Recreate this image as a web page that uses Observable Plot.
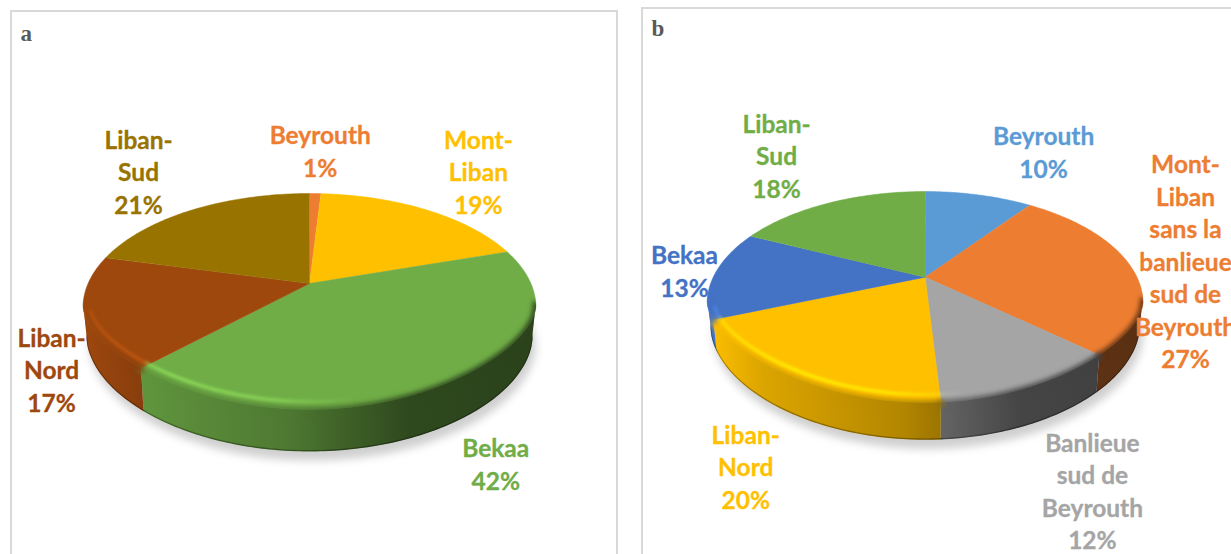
<!DOCTYPE html>
<html><head><meta charset="utf-8">
<script src="https://cdn.jsdelivr.net/npm/d3@7"></script>
<script src="https://cdn.jsdelivr.net/npm/@observablehq/plot@0.6"></script>
<style>html,body{margin:0;padding:0;background:#fff;overflow:hidden}svg{display:block}</style>
</head><body><div id="chart"></div>
<script>
// ---- data ----
const regionsA = ["Beyrouth", "Mont-\nLiban", "Bekaa", "Liban-\nNord", "Liban-\nSud"];
const sharesA = [1, 19, 42, 17, 21];
const colorsA = ["#ED7D31", "#FFC000", "#70AD47", "#9E480E", "#997300"];

const regionsB = ["Beyrouth", "Mont-\nLiban\nsans la\nbanlieue\nsud de\nBeyrouth", "Banlieue\nsud de\nBeyrouth", "Liban-\nNord", "Bekaa", "Liban-\nSud"];
const sharesB = [10, 27, 12, 20, 13, 18];
const colorsB = ["#5B9BD5", "#ED7D31", "#A5A5A5", "#FFC000", "#4472C4", "#70AD47"];

// ---- layout (not data) ----
const W = 1231, H = 554;
const geomA = {id:"a", cx:309, cy:307, rx:226.5, ryUp:114, ryLow:102, bow:20, tiltUp:-0.21, tiltLow:-0.167, cyb:339, ryb:112};
const geomB = {id:"b", cx:924.6, cy:303, rx:218, ryUp:112, ryLow:99, bow:20, tiltUp:-0.235, tiltLow:-0.188, cyb:329, ryb:110.3};
const labelNudgeA = [[5,-43.5],[52.5,-39],[52.4,78.5],[-34.3,51.5],[-54.5,-38.7]];
const labelNudgeB = [[65,-44],[54,-7],[62.2,103.5],[-48.3,88.7],[-30.4,-4],[-53.8,-48]];
const wallShade = [[0,1],[.13,.86],[.45,.7],[.6,.54],[.72,.42],[1,.38]];
const glint = [[0,.55],[.2,1],[.42,.85],[.6,0]];
const panels = [{x1:11,x2:617,y1:11,y2:600,name:"a",tx:20,ty:33},{x1:642,x2:1260,y1:8,y2:600,name:"b",tx:651,ty:28}];
const fontSize = 24.5;
const frontPinch = .05;

// perspective view of the pie's circle: deg clockwise from the top
function rimPoint(g, deg) {
  const t = deg * Math.PI / 180, u = Math.sin(t), v = -Math.cos(t);
  const view = a => { const d = 1 + a * v; return {xp: u * Math.sqrt(1 - a * a) / d, yp: (v + a) / d}; };
  const up = view(g.tiltUp);
  if (up.yp < 0) return up;
  const low = view(g.tiltLow);
  return {xp: low.xp * (1 - frontPinch * low.yp), yp: low.yp};
}
const onTop = (g, p, ix = 0, iy = 0) => ({
  x: g.cx + p.xp * (g.rx - ix),
  y: p.yp < 0 ? g.cy + p.yp * (g.ryUp - iy) : g.cy + p.yp * (g.ryLow - iy) - g.bow * p.yp * (1 - p.yp)
});
const onBottom = (g, p) => ({x: g.cx + p.xp * g.rx * .985, y: g.cyb + p.yp * g.ryb});
function arc(g, a0, a1) {
  const out = [], n = Math.max(2, Math.ceil(a1 - a0));
  for (let i = 0; i <= n; i++) out.push(rimPoint(g, a0 + (a1 - a0) * i / n));
  return out;
}
const scaled = (color, k) => { const c = d3.rgb(color); return d3.rgb(Math.min(255, c.r * k), Math.min(255, c.g * k), Math.min(255, c.b * k)).formatHex(); };
const pathOf = pts => "M" + pts.map(p => `${p.x},${p.y}`).join("L") + "Z";

function pieMarks(g, regions, shares, colors, nudges) {
  const total = d3.sum(shares);
  const cum = d3.cumsum(shares);
  const slices = regions.map((r, i) => ({
    region: r, share: shares[i], color: colors[i], i,
    a0: (i ? cum[i - 1] : 0) / total * 360, a1: cum[i] / total * 360
  }));
  const apex = onTop(g, {xp: 0, yp: g.tiltUp});
  const whole = arc(g, 0, 360);
  const x1 = g.cx - g.rx, x2 = g.cx + g.rx;
  const frontRim = whole.filter(p => p.yp >= -0.05);
  const clipId = `pie-${g.id}`;
  const clipped = {render: (i, s, v, d, c, next) => { const n = next(i, s, v, d, c); n.setAttribute("clip-path", `url(#${clipId})`); return n; }};

  const defs = () => {
    const d = d3.create("svg:defs");
    const cp = d.append("clipPath").attr("id", clipId);
    cp.append("path").attr("d", pathOf(whole.map(p => onTop(g, p))));
    cp.append("path").attr("d", pathOf(whole.map(p => onBottom(g, p))));
    cp.append("path").attr("d", pathOf([...frontRim.map(p => onTop(g, p)), ...frontRim.slice().reverse().map(p => onBottom(g, p))]));
    for (const s of slices) {
      const w = d.append("linearGradient").attr("id", `wall-${g.id}-${s.i}`)
        .attr("gradientUnits", "userSpaceOnUse").attr("x1", x1).attr("x2", x2).attr("y1", 0).attr("y2", 0);
      for (const [t, k] of wallShade) w.append("stop").attr("offset", t).attr("stop-color", scaled(s.color, k));
      const h = d.append("linearGradient").attr("id", `glint-${g.id}-${s.i}`)
        .attr("gradientUnits", "userSpaceOnUse").attr("x1", x1).attr("x2", x2).attr("y1", 0).attr("y2", 0);
      for (const [t, o] of glint) h.append("stop").attr("offset", t).attr("stop-color", scaled(s.color, 1.27)).attr("stop-opacity", o);
    }
    return d.node();
  };

  const marks = [defs];
  // soft shadow below the pie
  marks.push(Plot.line(whole.map(p => { const q = onBottom(g, p); return {x: q.x + 3, y: q.y + 9}; }),
    {x: "x", y: "y", fill: "#cfcfcf", stroke: "none", imageFilter: "blur(4px)"}));
  // walls
  const front = slices.map(s => ({s, pts: arc(g, s.a0, s.a1).filter(p => p.yp >= -0.05)})).filter(f => f.pts.length > 1);
  for (const f of front) {
    const poly = [...f.pts.map(p => onTop(g, p)), ...f.pts.slice().reverse().map(p => onBottom(g, p))];
    marks.push(Plot.line(poly, {x: "x", y: "y", fill: `url(#wall-${g.id}-${f.s.i})`, stroke: "none"}));
  }
  // dark lower lip
  for (const f of front) {
    marks.push(Plot.line(f.pts.map(p => onBottom(g, p)).map(q => ({x: q.x, y: q.y - .6})),
      {x: "x", y: "y", stroke: "#000", strokeOpacity: .3, strokeWidth: 1.6, imageFilter: "blur(.6px)", ...clipped}));
  }
  // top faces
  for (const s of slices) {
    const poly = [apex, ...arc(g, s.a0, s.a1).map(p => onTop(g, p))];
    marks.push(Plot.line(poly, {x: "x", y: "y", fill: s.color, stroke: s.color, strokeWidth: .5}));
  }
  // soft edge between top and wall
  for (const f of front) {
    marks.push(Plot.line(f.pts.map(p => onTop(g, p)).map(q => ({x: q.x, y: q.y + 1})),
      {x: "x", y: "y", stroke: `url(#wall-${g.id}-${f.s.i})`, strokeWidth: 6, imageFilter: "blur(2.5px)", ...clipped}));
  }
  // bright bevel line on the left of the front rim
  for (const f of front) {
    const pts = f.pts.filter(p => p.yp > .02).map(p => onTop(g, p, 7, 8));
    if (pts.length > 1) marks.push(Plot.line(pts, {x: "x", y: "y", stroke: `url(#glint-${g.id}-${f.s.i})`, strokeWidth: 3, imageFilter: "blur(1.5px)", ...clipped}));
  }
  // labels
  const labels = slices.map(s => {
    const q = onTop(g, rimPoint(g, (s.a0 + s.a1) / 2));
    return {text: `${s.region}\n${s.share}%`, color: s.color, x: q.x + nudges[s.i][0], y: q.y + nudges[s.i][1]};
  });
  marks.push(Plot.text(labels, {
    x: "x", y: "y", text: "text", fill: "color", stroke: "color", strokeWidth: .3, textAnchor: "middle", lineAnchor: "middle",
    fontFamily: "Lato", fontWeight: 700, fontSize, lineHeight: 32.5 / fontSize
  }));
  return marks;
}

const chart = Plot.plot({
  width: W, height: H, margin: 0,
  x: {domain: [0, W], range: [0, W], axis: null},
  y: {domain: [0, H], range: [0, H], axis: null},
  color: {type: "identity"},
  marks: [
    Plot.rect(panels, {x1: "x1", x2: "x2", y1: "y1", y2: "y2", fill: "white", stroke: "#d9d9d9", strokeWidth: 2}),
    Plot.text(panels, {x: "tx", y: "ty", text: "name", textAnchor: "start", fill: "#595959", fontFamily: "Liberation Serif", fontWeight: 700, fontSize: 23}),
    ...pieMarks(geomA, regionsA, sharesA, colorsA, labelNudgeA),
    ...pieMarks(geomB, regionsB, sharesB, colorsB, labelNudgeB)
  ]
});
document.getElementById("chart").append(chart);
</script></body></html>
